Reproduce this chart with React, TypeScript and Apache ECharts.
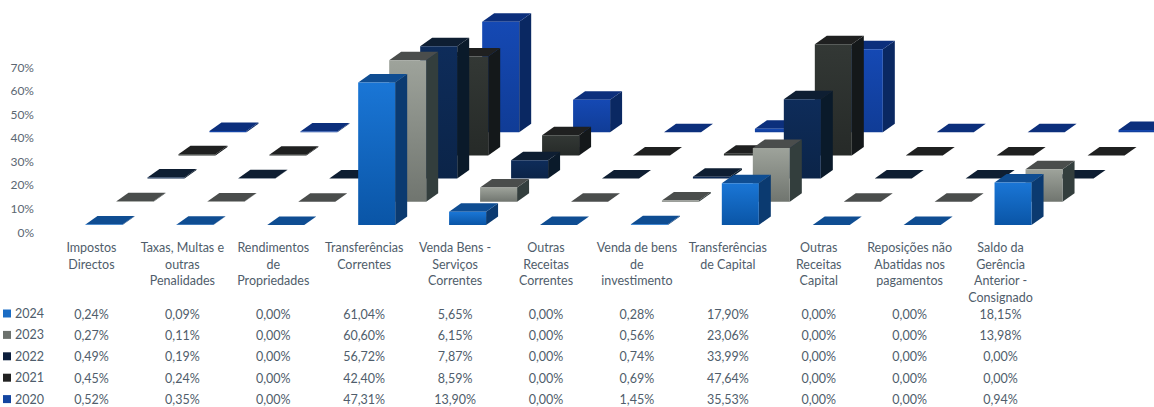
import React, { useEffect, useRef } from "react";
import * as echarts from "echarts";

const categories = [
  "Impostos\nDirectos",
  "Taxas, Multas e\noutras\nPenalidades",
  "Rendimentos\nde\nPropriedades",
  "Transferências\nCorrentes",
  "Venda Bens -\nServiços\nCorrentes",
  "Outras\nReceitas\nCorrentes",
  "Venda de bens\nde\ninvestimento",
  "Transferências\nde Capital",
  "Outras\nReceitas\nCapital",
  "Reposições não\nAbatidas nos\npagamentos",
  "Saldo da\nGerência\nAnterior -\nConsignado",
];
const years = ["2024", "2023", "2022", "2021", "2020"];
const values2024 = [0.24, 0.09, 0, 61.04, 5.65, 0, 0.28, 17.9, 0, 0, 18.15];
const values2023 = [0.27, 0.11, 0, 60.6, 6.15, 0, 0.56, 23.06, 0, 0, 13.98];
const values2022 = [0.49, 0.19, 0, 56.72, 7.87, 0, 0.74, 33.99, 0, 0, 0];
const values2021 = [0.45, 0.24, 0, 42.4, 8.59, 0, 0.69, 47.64, 0, 0, 0];
const values2020 = [0.52, 0.35, 0, 47.31, 13.9, 0, 1.45, 35.53, 0, 0, 0.94];
const rows = [values2024, values2023, values2022, values2021, values2020];

const FONT = "Lato";
const TEXT = "#4f5d6b";

const palette = [
  { legend: "#1a6cc4", a: "#1a76d6", b: "#0a55a6", side: "#0b3a70", top: "#0f4d92" },
  { legend: "#6c716d", a: "#9ea39b", b: "#70756f", side: "#333e3d", top: "#4a4d4c" },
  { legend: "#0c1e3c", a: "#0e2c5a", b: "#0b2448", side: "#0a1a2a", top: "#0e1e32" },
  { legend: "#222222", a: "#333835", b: "#262a28", side: "#14181a", top: "#1f2020" },
  { legend: "#1345a0", a: "#1549b4", b: "#103c96", side: "#0a2862", top: "#0c2f7c" },
];

function barRenderer(row: number) {
  const p = palette[row];
  const shiftX = -6 + 31 * row;
  const shiftY = -23.2 * row;
  const depthX = 12;
  const depthY = 8.5;
  return (_: any, api: any) => {
    const cat = api.value(0);
    const v = api.value(1);
    const [cx, y0] = api.coord([cat, 0]);
    const [, y1] = api.coord([cat, v]);
    const w = api.size([1, 0])[0] * 0.407;
    const l = cx + shiftX;
    const r = l + w;
    const b = y0 + shiftY;
    const t = y1 + shiftY;
    return {
      type: "group",
      children: [
        {
          type: "polygon",
          shape: { points: [[r, b], [r + depthX, b - depthY], [r + depthX, t - depthY], [r, t]] },
          style: { fill: p.side },
        },
        {
          type: "polygon",
          shape: { points: [[l, t], [r, t], [r + depthX, t - depthY], [l + depthX, t - depthY]] },
          style: { fill: p.top },
        },
        {
          type: "rect",
          shape: { x: l, y: t, width: w, height: b - t },
          style: {
            fill: new echarts.graphic.LinearGradient(0, 0, 0, 1, [
              { offset: 0, color: p.a },
              { offset: 1, color: p.b },
            ]),
          },
        },
      ],
    };
  };
}

const barSeries = rows
  .map((vals, row) => ({
    type: "custom",
    name: years[row],
    xAxisIndex: 0,
    yAxisIndex: 1,
    z: 10 - row,
    itemStyle: { color: palette[row].legend },
    encode: { x: 0, y: 1 },
    data: vals.map((v, i) => [i, v]),
    renderItem: barRenderer(row),
  }))
  .reverse();

const tableData: any[] = [];
rows.forEach((vals, r) =>
  vals.forEach((v, i) => tableData.push([i, r, v.toFixed(2).replace(".", ",") + "%"]))
);

const tableSeries = {
  type: "custom",
  name: "tabela",
  xAxisIndex: 1,
  yAxisIndex: 2,
  encode: { x: 0, y: 1 },
  data: tableData,
  renderItem: (params: any, api: any) => {
    const [x, y] = api.coord([api.value(0), api.value(1)]);
    return {
      type: "text",
      x,
      y,
      style: {
        text: tableData[params.dataIndex][2],
        fill: TEXT,
        font: `12.5px ${FONT}`,
        align: "center",
        verticalAlign: "middle",
      },
    };
  },
};

const indexCats = categories.map((_, i) => String(i));

const option: any = {
  animation: false,
  backgroundColor: "#ffffff",
  grid: [
    { left: 46, width: 1000, top: 67, height: 165 },
    { left: 46, width: 1000, top: 314.4, height: 85 },
  ],
  xAxis: [
    {
      type: "category",
      gridIndex: 0,
      data: categories,
      axisLine: { show: false },
      axisTick: { show: false },
      axisLabel: {
        interval: 0,
        margin: 7,
        fontFamily: FONT,
        fontSize: 12.5,
        lineHeight: 16.7,
        color: TEXT,
        align: "center",
        verticalAlign: "top",
      },
    },
    { type: "category", gridIndex: 1, data: indexCats, show: false },
  ],
  yAxis: [
    {
      type: "value",
      gridIndex: 0,
      min: 0,
      max: 70,
      interval: 10,
      position: "left",
      splitLine: { show: false },
      axisLine: { show: false },
      axisTick: { show: false },
      axisLabel: {
        formatter: "{value}%",
        fontFamily: FONT,
        fontSize: 12,
        color: "#5b6772",
        margin: 12,
      },
    },
    { type: "value", gridIndex: 0, min: -3, max: 67.67, show: false, splitLine: { show: false } },
    { type: "category", gridIndex: 1, data: years, inverse: true, boundaryGap: false, show: false },
  ],
  legend: {
    data: years,
    orient: "vertical",
    left: 3,
    top: 307,
    itemWidth: 8,
    itemHeight: 8,
    itemGap: 8.4,
    icon: "rect",
    selectedMode: false,
    padding: 0,
    textStyle: {
      fontFamily: FONT,
      fontSize: 12.5,
      lineHeight: 13,
      color: TEXT,
      padding: [0, 0, 0, -1],
    },
  },
  series: [...barSeries, tableSeries],
};

export default function App() {
  const ref = useRef<HTMLDivElement>(null);
  useEffect(() => {
    const chart = echarts.init(ref.current!, undefined, { renderer: "svg" });
    chart.setOption(option);
    return () => chart.dispose();
  }, []);
  return (
    <div
      ref={ref}
      style={{ position: "fixed", left: 0, top: 0, width: 1154, height: 407, background: "#fff" }}
    />
  );
}
